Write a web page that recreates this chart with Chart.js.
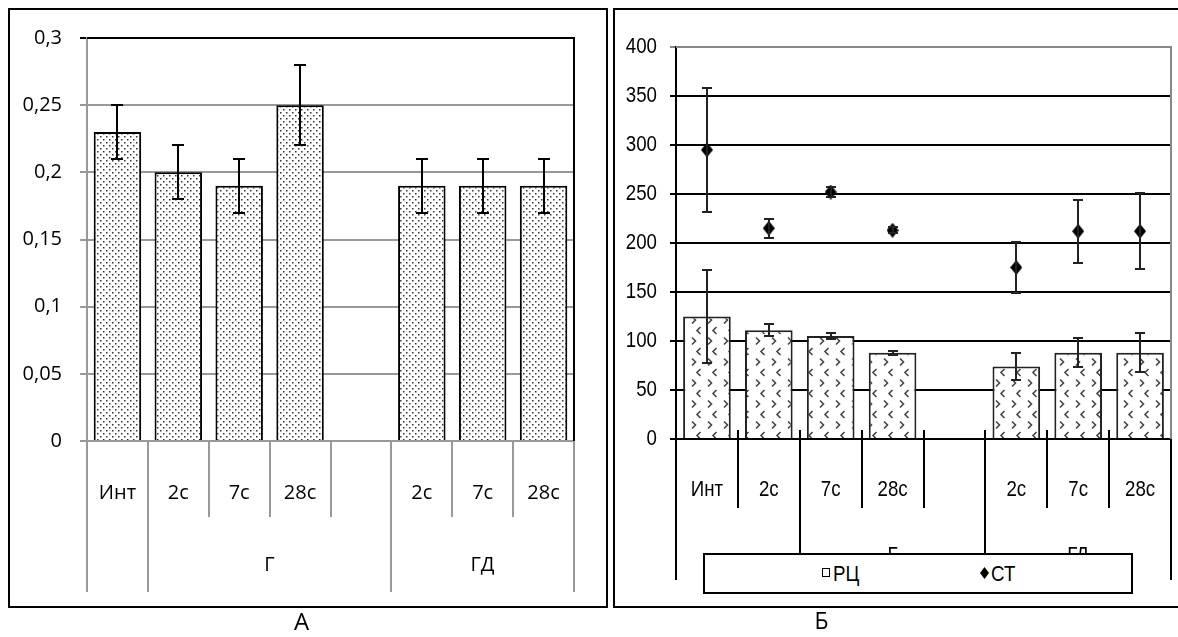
<!DOCTYPE html>
<html><head><meta charset="utf-8">
<script src="https://cdn.jsdelivr.net/npm/chart.js@4.4.0/dist/chart.umd.min.js"></script>
<style>
html,body{margin:0;padding:0;background:#fff;width:1178px;height:637px;overflow:hidden;}
body{position:relative;}
canvas{position:absolute;left:0;top:0;}
.box{position:absolute;border:2px solid #000;box-sizing:border-box;}
.cap{position:absolute;top:606px;font-size:24px;line-height:30px;color:#000;}
#legB{position:absolute;left:703px;top:553px;width:430px;height:41px;border:2px solid #000;box-sizing:border-box;background:#fff;font:22px 'Liberation Sans',Arial,sans-serif;color:#000;}
#legB span{position:absolute;}
.narrow{display:inline-block;transform:scaleX(0.85);transform-origin:0 0;}
</style></head><body>
<div class="box" style="left:8px;top:8px;width:600px;height:600px;"></div>
<div class="box" style="left:613px;top:8px;width:600px;height:600px;"></div>
<canvas id="cA" width="1178" height="637"></canvas>
<canvas id="cB" width="1178" height="637"></canvas>
<div id="legB"></div>
<div class="cap" style="left:294px;font-family:'Open Sans',sans-serif;">А</div>
<div class="cap" style="left:815px;font-family:'Liberation Sans',sans-serif;"><span class="narrow">Б</span></div>
<script>
// ---------- DATA ----------
const categories = ['Инт','2с','7с','28с','','2с','7с','28с'];
// Panel A
const groupNamesA = ['', 'Г', 'ГД'];
const groupBoundsA = [0, 1, 5, 8];
const valuesA = [0.23, 0.20, 0.19, 0.25, null, 0.19, 0.19, 0.19];
const errorsA = [0.02, 0.02, 0.02, 0.03, null, 0.02, 0.02, 0.02];
const yTicksA = [0, 0.05, 0.1, 0.15, 0.2, 0.25, 0.3];
// Panel Б
const groupNamesB = ['', 'Г', 'ГД'];
const groupBoundsB = [0, 2, 5, 8];
const seriesNamesB = ['РЦ', 'СТ'];
const valuesRC = [125, 111, 105, 88, null, 74, 88, 88];
const errorsRC = [47, 6, 3, 2, null, 14, 15, 20];
const valuesST = [295, 215, 252, 213, null, 175, 212, 212];
const errorsST = [63, 10, 5, 3, null, 26, 32, 39];
const yTicksB = [0, 50, 100, 150, 200, 250, 300, 350, 400];

// ---------- patterns ----------
function dotPattern(){
  const c=document.createElement('canvas');c.width=6;c.height=6;
  const g=c.getContext('2d');g.fillStyle='#fff';g.fillRect(0,0,6,6);
  g.fillStyle='#333';g.fillRect(1,1,1.5,1.5);g.fillRect(4,4,1.5,1.5);
  return document.createElement('canvas').getContext('2d').createPattern(c,'repeat');
}
function chevPattern(){
  const c=document.createElement('canvas');c.width=16;c.height=21;
  const g=c.getContext('2d');g.fillStyle='#fff';g.fillRect(0,0,16,21);
  g.strokeStyle='#444';g.lineWidth=1.6;
  g.beginPath();g.moveTo(4,1.5);g.lineTo(7.5,5);g.lineTo(4,8.5);g.stroke();
  g.beginPath();g.moveTo(12.5,12);g.lineTo(9,15.5);g.lineTo(12.5,19);g.stroke();
  return document.createElement('canvas').getContext('2d').createPattern(c,'repeat');
}
function diamond(){
  const c=document.createElement('canvas');c.width=12;c.height=15;
  const g=c.getContext('2d');g.fillStyle='#000';g.beginPath();
  g.moveTo(6,0);g.lineTo(12,7.5);g.lineTo(6,15);g.lineTo(0,7.5);g.closePath();g.fill();
  return c;
}

// ---------- plugins ----------
function errorPlugin(color, cap){
  return {id:'err', afterDatasetsDraw(chart){
    const ctx=chart.ctx, ys=chart.scales.y;
    chart.data.datasets.forEach((ds,di)=>{
      if(!ds.errs) return;
      const meta=chart.getDatasetMeta(di);
      meta.data.forEach((el,i)=>{
        const v=ds.data[i], e=ds.errs[i];
        if(v==null||e==null) return;
        const x=Math.round(el.x), t=Math.round(ys.getPixelForValue(v+e)), b=Math.round(ys.getPixelForValue(v-e));
        ctx.save();ctx.strokeStyle=color;ctx.lineWidth=2;
        ctx.beginPath();ctx.moveTo(x,t);ctx.lineTo(x,b);
        ctx.moveTo(x-cap,t);ctx.lineTo(x+cap,t);
        ctx.moveTo(x-cap,b);ctx.lineTo(x+cap,b);ctx.stroke();ctx.restore();
      });
    });
  }};
}
function axisPlugin(o){
  return {id:'axisx', afterDraw(chart){
    const ctx=chart.ctx, xs=chart.scales.x, ca=chart.chartArea;
    const step=xs.getPixelForValue(1)-xs.getPixelForValue(0);
    const bx=k=>Math.round(xs.getPixelForValue(0)+(k-0.5)*step);
    const y0=xs.top;
    ctx.save();ctx.strokeStyle=o.color;ctx.lineWidth=2;
    const n=categories.length;
    for(let k=0;k<=n;k++){
      const g=o.bounds.includes(k);
      ctx.beginPath();ctx.moveTo(bx(k),y0-o.up);ctx.lineTo(bx(k),g?o.groupBottom:o.tickBottom);ctx.stroke();
    }
    ctx.strokeStyle=o.frame;ctx.lineWidth=2;
    ctx.beginPath();ctx.moveTo(ca.left,ca.top);ctx.lineTo(ca.right,ca.top);ctx.lineTo(ca.right,ca.bottom);ctx.stroke();
    ctx.fillStyle='#000';ctx.font=o.font;ctx.textAlign='center';ctx.textBaseline='middle';
    for(let gi=0;gi<o.names.length;gi++){
      const cx=(bx(o.bounds[gi])+bx(o.bounds[gi+1]))/2;
      ctx.fillText(o.names[gi],cx,o.groupY);
    }
    ctx.restore();
  }};
}

// ---------- Chart A ----------
const fontA={family:"'Open Sans', sans-serif", size:20};
new Chart(document.getElementById('cA'),{
  type:'bar',
  data:{labels:categories,datasets:[{data:valuesA,errs:errorsA,backgroundColor:dotPattern(),borderColor:'#000',borderWidth:2,barPercentage:0.78,categoryPercentage:1}]},
  options:{responsive:false,animation:false,
    layout:{padding:{left:10,top:38,right:604,bottom:0}},
    plugins:{legend:{display:false},tooltip:{enabled:false}},
    scales:{
      x:{grid:{display:false},border:{display:true,color:'#999',width:2},
         ticks:{font:fontA,color:'#000',padding:32,maxRotation:0,autoSkip:false},
         afterFit(s){s.height=196;}},
      y:{min:0,max:0.3,afterBuildTicks(s){s.ticks=yTicksA.map(v=>({value:v}));},
         grid:{color:c=>(c.tick&&Math.abs(c.tick.value-0.3)<1e-9)?'#000':'#999',lineWidth:2,tickLength:7},
         border:{color:'#999',width:2},
         ticks:{font:fontA,color:'#000',padding:18,callback:v=>String(Number(v.toFixed(2))).replace('.',',')},
         afterFit(s){s.width=77;}}
    }},
  plugins:[errorPlugin('#000',6),axisPlugin({color:'#999',bounds:groupBoundsA,names:groupNamesA,up:0,tickBottom:517,groupBottom:592,frame:'#000',font:"20px 'Open Sans'",groupY:565})]
});

// ---------- Chart Б (condensed text) ----------
const canvasB=document.getElementById('cB');
const ctxB=canvasB.getContext('2d');
const origFill=ctxB.fillText.bind(ctxB);
ctxB.fillText=function(t,x,y,mw){
  this.save();this.translate(x,y);this.scale(0.85,1);origFill(t,0,0);this.restore();
};
const famB="'Liberation Sans', Arial, sans-serif";
const fontB={family:famB,size:22};
new Chart(canvasB,{
  type:'bar',
  data:{labels:categories,datasets:[
    {type:'line',label:seriesNamesB[1],data:valuesST,errs:errorsST,showLine:false,pointStyle:diamond(),pointRadius:6,borderColor:'#000',backgroundColor:'#000',order:1},
    {type:'bar',label:seriesNamesB[0],data:valuesRC,errs:errorsRC,backgroundColor:chevPattern(),borderColor:'#222',borderWidth:2,barPercentage:0.77,categoryPercentage:1,order:2}
  ]},
  options:{responsive:false,animation:false,
    layout:{padding:{left:615,top:47,right:4,bottom:0}},
    plugins:{legend:{display:false},tooltip:{enabled:false}},
    scales:{
      x:{grid:{display:false},border:{display:true,color:'#000',width:2},
         ticks:{font:{family:famB,size:22,lineHeight:'80px'},color:'#000',padding:3,maxRotation:0,autoSkip:false},
         afterFit(s){s.height=198;}},
      y:{min:0,max:400,afterBuildTicks(s){s.ticks=yTicksB.map(v=>({value:v}));},
         grid:{color:c=>(c.tick&&c.tick.value===400)?'#888':'#000',lineWidth:2,tickLength:6},
         border:{color:'#000',width:2},
         ticks:{font:fontB,color:'#000',padding:13},
         afterFit(s){s.width=61;}}
    }},
  plugins:[errorPlugin('#222',5),axisPlugin({color:'#000',bounds:groupBoundsB,names:groupNamesB,up:9,tickBottom:508,groupBottom:580,frame:'#888',font:"22px "+famB,groupY:556})]
});

// legend for Б (from series names)
const leg=document.getElementById('legB');
leg.innerHTML=
 '<span style="left:117px;top:13px;width:6px;height:7px;border:1px solid #000;"></span>'+
 '<span style="left:128px;top:6px;" class="narrow">'+seriesNamesB[0]+'</span>'+
 '<span style="left:275px;top:12px;width:9px;height:12px;background:#000;clip-path:polygon(50% 0,100% 50%,50% 100%,0 50%);"></span>'+
 '<span style="left:286px;top:6px;" class="narrow">'+seriesNamesB[1]+'</span>';
</script>
</body></html>
